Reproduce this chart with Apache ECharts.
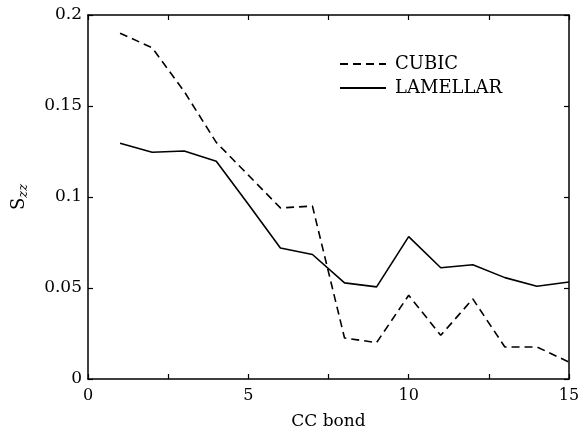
<!DOCTYPE html>
<html>
<head>
<meta charset="utf-8">
<script src="https://cdn.jsdelivr.net/npm/echarts@6/dist/echarts.min.js"></script>
<style>
  html, body { margin: 0; padding: 0; background: #fff; }
  #chart { width: 584px; height: 435px; }
</style>
</head>
<body>
<div id="chart"></div>
<script>
// CC bond index
const bonds = [1, 2, 3, 4, 5, 6, 7, 8, 9, 10, 11, 12, 13, 14, 15];
// order parameter S_zz
const cubic = [0.190, 0.182, 0.158, 0.130, 0.112, 0.094, 0.095, 0.0225, 0.020, 0.046, 0.024, 0.044, 0.0176, 0.0176, 0.0093];
const lamellar = [0.1295, 0.1246, 0.1253, 0.1196, 0.096, 0.072, 0.0684, 0.0528, 0.0506, 0.0782, 0.0611, 0.0628, 0.0557, 0.051, 0.0533];
const yTicks = ["0", "0.05", "0.1", "0.15", "0.2"];

const font = "DejaVu Serif";
const pairs = (ys) => bonds.map((b, i) => [b, ys[i]]);

const chart = echarts.init(document.getElementById("chart"));

const xBase = {
  type: "value",
  min: 0,
  max: 15,
  interval: 2.5,
  axisLine: { show: true, onZero: false, lineStyle: { color: "#000", width: 1.5 } },
  axisTick: { show: true, inside: true, length: 5, lineStyle: { color: "#000", width: 1.2 } },
  splitLine: { show: false },
};
const yBase = {
  type: "value",
  min: 0,
  max: 0.2,
  interval: 0.05,
  axisLine: { show: true, onZero: false, lineStyle: { color: "#000", width: 1.5 } },
  axisTick: { show: true, inside: true, length: 5, lineStyle: { color: "#000", width: 1.2 } },
  splitLine: { show: false },
};

const option = {
  backgroundColor: "#fff",
  animation: false,
  grid: { left: 88, right: 15, top: 15, bottom: 52 },
  legend: {
    left: 334,
    top: 50,
    orient: "vertical",
    itemWidth: 46,
    itemHeight: 14,
    itemGap: 6,
    itemStyle: { opacity: 0 },
    textStyle: { fontFamily: font, fontSize: 18, color: "#000", padding: [0, 0, 0, 4] },
    data: ["CUBIC", "LAMELLAR"],
  },
  xAxis: [
    Object.assign({}, xBase, {
      position: "bottom",
      name: "CC bond",
      nameLocation: "middle",
      nameGap: 34,
      nameTextStyle: { fontFamily: font, fontSize: 17, color: "#000" },
      axisLabel: {
        fontFamily: font, fontSize: 16, color: "#000", margin: 9,
        formatter: (v) => (v % 5 === 0 ? String(v) : ""),
      },
    }),
    Object.assign({}, xBase, { position: "top", axisLabel: { show: false } }),
  ],
  yAxis: [
    Object.assign({}, yBase, {
      position: "left",
      name: "{s|S}{sub|zz}",
      nameLocation: "middle",
      nameGap: 58,
      nameRotate: 90,
      nameTextStyle: {
        rich: {
          s: { fontFamily: font, fontSize: 18, color: "#000" },
          sub: { fontFamily: font, fontSize: 13, color: "#000", fontStyle: "italic", verticalAlign: "bottom", padding: [8, 0, 0, 0] },
        },
      },
      axisLabel: {
        fontFamily: font, fontSize: 17, color: "#000", margin: 6,
        formatter: (v) => yTicks[Math.round(v / 0.05)],
      },
    }),
    Object.assign({}, yBase, { position: "right", axisLabel: { show: false } }),
  ],
  series: [
    {
      name: "CUBIC",
      type: "line",
      data: pairs(cubic),
      symbol: "none",
      lineStyle: { color: "#000", width: 1.6, type: [8, 5] },
      itemStyle: { color: "#000" },
    },
    {
      name: "LAMELLAR",
      type: "line",
      data: pairs(lamellar),
      symbol: "none",
      lineStyle: { color: "#000", width: 1.6 },
      itemStyle: { color: "#000" },
    },
  ],
};

chart.setOption(option);
</script>
</body>
</html>
